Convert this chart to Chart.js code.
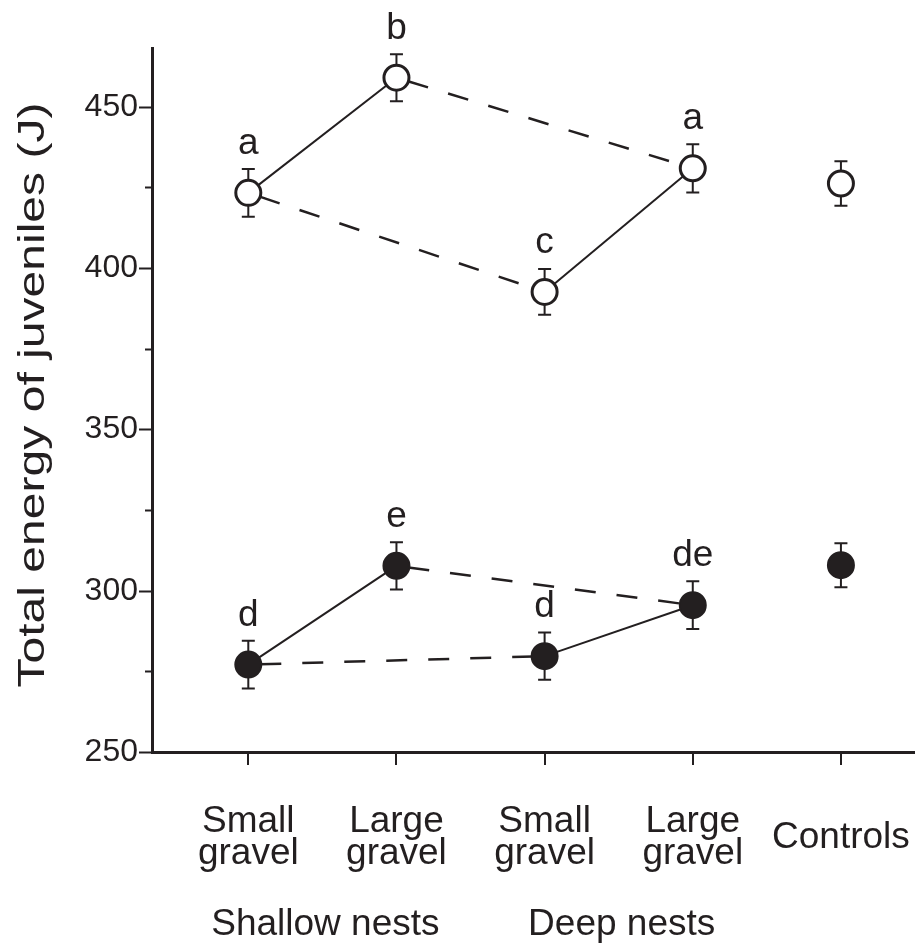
<!DOCTYPE html>
<html>
<head>
<meta charset="utf-8">
<script src="https://cdn.jsdelivr.net/npm/chart.js@4.4.1/dist/chart.umd.min.js"></script>
<style>
  html, body { margin: 0; padding: 0; background: #ffffff; }
  #wrap { width: 915px; height: 946px; position: relative; }
</style>
</head>
<body>
<div id="wrap"><canvas id="chart" width="915" height="946"></canvas></div>
<script>
// Treatments along the x axis (two-line labels) and the nest-depth groups below them
const categories = [['Small', 'gravel'], ['Large', 'gravel'], ['Small', 'gravel'], ['Large', 'gravel'], ['Controls']];
const nestGroups = ['Shallow nests', 'Deep nests'];
const nestGroupMembers = [[0, 1], [2, 3]];

// Y axis ticks (minor ticks every 25 J, labels every 50 J)
const yTickValues = [250, 275, 300, 325, 350, 375, 400, 425, 450];
const yTickLabels = ['250', '', '300', '', '350', '', '400', '', '450'];

// Open circles: mean total energy (J) and error
const openMeans = [423.3, 459.0, 392.6, 430.9, 426.2];
const openErrors = [7.4, 7.3, 7.1, 7.5, 6.9];
const openLetters = ['a', 'b', 'c', 'a', ''];

// Filled circles: mean total energy (J) and error
const filledMeans = [277.1, 307.7, 279.7, 295.5, 307.9];
const filledErrors = [7.4, 7.3, 7.3, 7.4, 6.8];
const filledLetters = ['d', 'e', 'd', 'de', ''];

// Which treatments are joined: same depth (solid) and same gravel size (dashed)
const solidPairs = [[0, 1], [2, 3]];
const dashedPairs = [[0, 2], [1, 3]];

const ink = '#231f20';
const FONT = '"Liberation Sans", Arial, Helvetica, sans-serif';

const series = [
  { means: openMeans, errors: openErrors, letters: openLetters, fill: '#ffffff', radius: 12.5, border: 3 },
  { means: filledMeans, errors: filledErrors, letters: filledLetters, fill: ink, radius: 13, border: 2 }
];

const pairData = (means, pair) => pair.map(i => ({ x: i, y: means[i] }));

const datasets = [];
series.forEach(s => {
  solidPairs.forEach(p => datasets.push({
    data: pairData(s.means, p), showLine: true, borderColor: ink, borderWidth: 2,
    pointRadius: 0, order: 2
  }));
  dashedPairs.forEach(p => datasets.push({
    data: pairData(s.means, p), showLine: true, borderColor: ink, borderWidth: 2.5,
    borderDash: [21, 21], borderDashOffset: 30, pointRadius: 0, order: 2
  }));
  datasets.push({
    data: s.means.map((m, i) => ({ x: i, y: m })), showLine: false,
    pointRadius: s.radius, pointBackgroundColor: s.fill, pointBorderColor: ink,
    pointBorderWidth: s.border, order: 1
  });
});

const decorations = {
  id: 'decorations',
  beforeDatasetsDraw(chart) {
    const { ctx, scales: { x, y } } = chart;
    ctx.save();
    ctx.strokeStyle = ink;
    ctx.lineWidth = 2;
    series.forEach(s => {
      s.means.forEach((m, i) => {
        const px = x.getPixelForValue(i);
        const top = y.getPixelForValue(m + s.errors[i]);
        const bot = y.getPixelForValue(m - s.errors[i]);
        ctx.beginPath();
        ctx.moveTo(px, top); ctx.lineTo(px, bot);
        ctx.moveTo(px - 6.5, top); ctx.lineTo(px + 6.5, top);
        ctx.moveTo(px - 6.5, bot); ctx.lineTo(px + 6.5, bot);
        ctx.stroke();
      });
    });
    ctx.restore();
  },
  afterDatasetsDraw(chart) {
    const { ctx, scales: { x, y } } = chart;
    ctx.save();
    ctx.fillStyle = ink;
    ctx.font = '37px ' + FONT;
    ctx.textAlign = 'center';
    ctx.textBaseline = 'alphabetic';
    series.forEach(s => {
      s.letters.forEach((t, i) => {
        if (!t) return;
        ctx.fillText(t, x.getPixelForValue(i), y.getPixelForValue(s.means[i]) - 39);
      });
    });
    ctx.restore();
  },
  afterDraw(chart) {
    const { ctx, scales: { x, y }, chartArea } = chart;
    ctx.save();
    ctx.strokeStyle = ink;
    ctx.lineWidth = 2;
    // y tick marks: long at labelled values, short in between
    yTickValues.forEach((v, i) => {
      const py = Math.round(y.getPixelForValue(v)) + 0.5;
      const len = yTickLabels[i] ? 13 : 7;
      ctx.beginPath();
      ctx.moveTo(chartArea.left, py); ctx.lineTo(chartArea.left - len, py);
      ctx.stroke();
    });
    // x tick marks pointing down
    categories.forEach((c, i) => {
      const px = Math.round(x.getPixelForValue(i));
      ctx.beginPath();
      ctx.moveTo(px, chartArea.bottom); ctx.lineTo(px, chartArea.bottom + 13);
      ctx.stroke();
    });
    // category labels, single-line labels centred on the two-line block
    ctx.fillStyle = ink;
    ctx.font = '37px ' + FONT;
    ctx.textAlign = 'center';
    ctx.textBaseline = 'alphabetic';
    const firstBase = chartArea.bottom + 80;
    const lineGap = 31.5;
    categories.forEach((lines, i) => {
      const px = x.getPixelForValue(i);
      const start = firstBase + (2 - lines.length) * lineGap / 2;
      lines.forEach((t, k) => ctx.fillText(t, px, start + k * lineGap));
    });
    // nest depth group labels
    nestGroups.forEach((g, k) => {
      const [a, b] = nestGroupMembers[k];
      const px = (x.getPixelForValue(a) + x.getPixelForValue(b)) / 2 + 3;
      ctx.fillText(g, px, chartArea.bottom + 183);
    });
    // y axis title
    const title = 'Total energy of juveniles (J)';
    ctx.font = '36px ' + FONT;
    const w = ctx.measureText(title).width;
    ctx.translate(44, 395);
    ctx.rotate(-Math.PI / 2);
    ctx.scale(585 / w, 1);
    ctx.fillText(title, 0, 0);
    ctx.restore();
  }
};

new Chart(document.getElementById('chart'), {
  type: 'scatter',
  data: { datasets },
  options: {
    responsive: false,
    animation: false,
    devicePixelRatio: 1,
    events: [],
    layout: { autoPadding: false, padding: { top: 48, right: 0, left: 0, bottom: 0 } },
    plugins: { legend: { display: false }, tooltip: { enabled: false } },
    scales: {
      x: {
        type: 'linear', min: -0.65, max: 4.5,
        grid: { display: false, drawTicks: false },
        border: { display: true, width: 3, color: ink },
        ticks: { display: false },
        afterFit(s) { s.height = 194; }
      },
      y: {
        type: 'linear', min: 250, max: 468.2,
        grid: { display: false, drawTicks: false },
        border: { display: true, width: 3, color: ink },
        afterBuildTicks(s) { s.ticks = yTickValues.map(v => ({ value: v })); },
        ticks: {
          color: ink, padding: 14,
          font: { family: FONT, size: 32 },
          callback: v => yTickLabels[yTickValues.indexOf(v)]
        },
        afterFit(s) { s.width = 152; }
      }
    }
  },
  plugins: [decorations]
});
</script>
</body>
</html>
